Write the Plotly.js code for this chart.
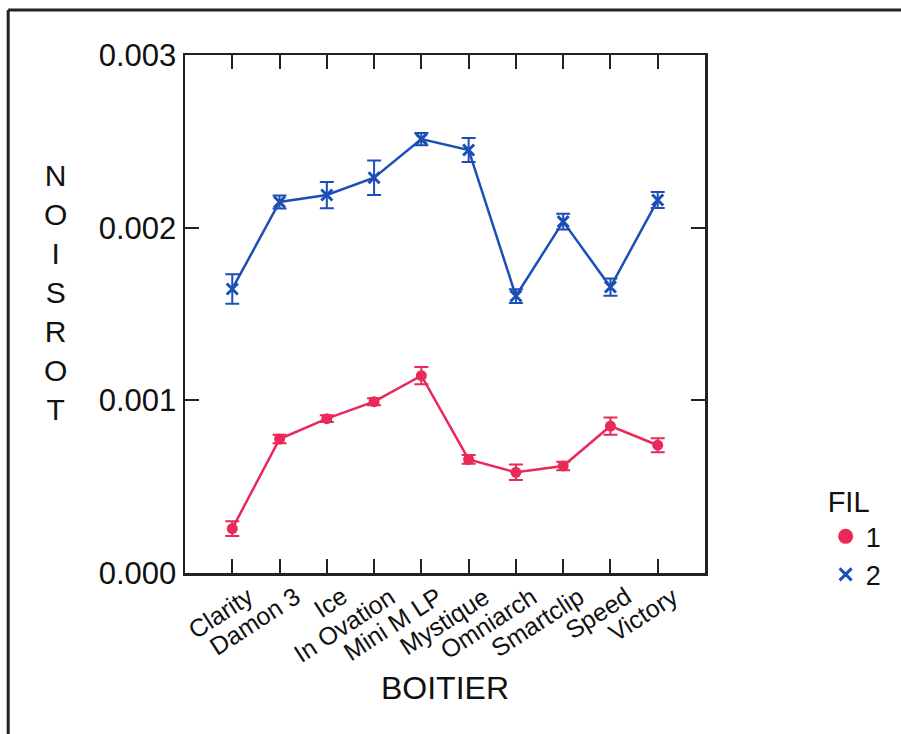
<!DOCTYPE html>
<html>
<head>
<meta charset="utf-8">
<script src="https://cdn.plot.ly/plotly-3.0.1.min.js"></script>
<style>html,body{margin:0;padding:0;background:#fff;}#chart{width:901px;height:734px;}</style>
</head>
<body>
<div id="chart"></div>
<script>
var categories = ["Clarity", "Damon 3", "Ice", "In Ovation", "Mini M LP", "Mystique", "Omniarch", "Smartclip", "Speed", "Victory"];
var fil1Values = [0.000257, 0.000776, 0.000894, 0.000992, 0.001143, 0.000658, 0.000583, 0.000620, 0.000851, 0.000740];
var fil1Errors = [0.000043, 0.000025, 0.000020, 0.000020, 0.000050, 0.000025, 0.000045, 0.000025, 0.000050, 0.000040];
var fil2Values = [0.001645, 0.002149, 0.002189, 0.002289, 0.002513, 0.002450, 0.001604, 0.002035, 0.001656, 0.002160];
var fil2Errors = [0.000085, 0.000038, 0.000076, 0.000100, 0.000035, 0.000070, 0.000040, 0.000045, 0.000050, 0.000046];
var yTickValues = [0, 0.001, 0.002, 0.003];
var yTickLabels = ["0.000", "0.001", "0.002", "0.003"];
var legendTitle = "FIL";
var seriesNames = ["1", "2"];
var xTitle = "BOITIER";
var yTitle = "NOISROT";

var RED = "#e8295a";
var BLUE = "#1c4fb5";
var FONT = "Liberation Sans, Arial, Helvetica, sans-serif";

var traces = [
  {
    x: categories, y: fil1Values, type: "scatter", mode: "lines+markers",
    line: {color: RED, width: 2.5}, marker: {color: RED, size: 11, symbol: "circle"},
    error_y: {type: "data", array: fil1Errors, visible: true, color: RED, thickness: 2, width: 7},
    showlegend: false, name: seriesNames[0]
  },
  {
    x: categories, y: fil2Values, type: "scatter", mode: "lines+markers",
    line: {color: BLUE, width: 2.5}, marker: {color: BLUE, size: 11, symbol: "x-thin-open", line: {color: BLUE, width: 3}},
    error_y: {type: "data", array: fil2Errors, visible: true, color: BLUE, thickness: 2, width: 7},
    showlegend: false, name: seriesNames[1]
  },
  {
    x: [null], y: [null], type: "scatter", mode: "markers", name: seriesNames[0],
    marker: {color: RED, size: 15, symbol: "circle"}
  },
  {
    x: [null], y: [null], type: "scatter", mode: "markers", name: seriesNames[1],
    marker: {color: BLUE, size: 12, symbol: "x-thin-open", line: {color: BLUE, width: 3}}
  }
];

var annotations = categories.map(function (c) {
  return {
    x: c, xref: "x", y: 0, yref: "paper", yshift: -6, xshift: 28,
    text: c, showarrow: false, textangle: -33,
    xanchor: "right", yanchor: "top",
    font: {family: FONT, size: 25, color: "#111"}
  };
});
annotations.push({
  x: -0.25, xref: "paper", y: 0.542, yref: "paper",
  text: yTitle.split("").join("<br>"), showarrow: false,
  xanchor: "center", yanchor: "middle", align: "center",
  font: {family: FONT, size: 30, color: "#111"}
});

var layout = {
  width: 901, height: 734,
  margin: {l: 185, r: 196, t: 55, b: 161},
  paper_bgcolor: "#fff", plot_bgcolor: "#fff",
  font: {family: FONT, color: "#111"},
  xaxis: {
    type: "category", range: [-1, 10],
    showline: true, linecolor: "#222", linewidth: 2.5, mirror: "ticks",
    ticks: "inside", ticklen: 14, tickwidth: 2, tickcolor: "#222",
    showticklabels: false, showgrid: false, zeroline: false,
    title: {text: xTitle, font: {family: FONT, size: 32, color: "#111"}, standoff: 102}
  },
  yaxis: {
    range: [0, 0.003], tickvals: yTickValues, ticktext: yTickLabels,
    showline: true, linecolor: "#222", linewidth: 2.5, mirror: "ticks",
    ticks: "inside", ticklen: 14, tickwidth: 2, tickcolor: "#222",
    tickfont: {family: FONT, size: 31, color: "#111"},
    showgrid: false, zeroline: false
  },
  legend: {
    x: 1.232, xanchor: "left", y: 0.19, yanchor: "top",
    title: {text: legendTitle, font: {family: FONT, size: 29, color: "#111"}},
    font: {family: FONT, size: 27, color: "#111"},
    itemwidth: 30, tracegroupgap: 0, bgcolor: "rgba(0,0,0,0)"
  },
  annotations: annotations,
  shapes: [
    {type: "line", xref: "paper", yref: "paper", x0: -0.34, x1: 1.5, y0: 1.087, y1: 1.087, line: {color: "#222", width: 3}},
    {type: "line", xref: "paper", yref: "paper", x0: -0.34, x1: -0.34, y0: 1.087, y1: -0.4, line: {color: "#222", width: 3}}
  ]
};

Plotly.newPlot("chart", traces, layout, {displayModeBar: false, staticPlot: true});
</script>
</body>
</html>
